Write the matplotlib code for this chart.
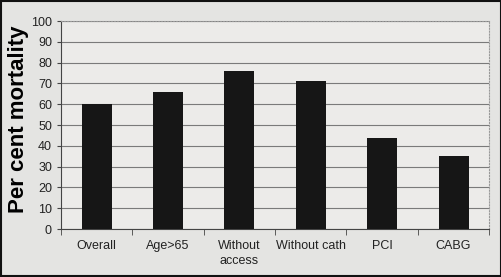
import matplotlib
matplotlib.use("Agg")
import matplotlib.pyplot as plt
import numpy as np

categories = ["Overall", "Age>65", "Without\naccess", "Without cath", "PCI", "CABG"]
values = [60, 66, 76, 71, 44, 35]
yticks = list(range(0, 101, 10))

fig = plt.figure(figsize=(5.02, 2.77), dpi=100, facecolor="#e4e4e2")
ax = fig.add_axes([0.1215, 0.173, 0.853, 0.751])
ax.set_facecolor("#ecebe9")
x = np.arange(len(categories))
ax.bar(x, values, width=0.42, color="#161616", zorder=3)
ax.set_xlim(-0.5, len(categories) - 0.5)
ax.set_ylim(0, 100)
ax.set_yticks(yticks)
ax.yaxis.grid(True, color="#7a7a7a", linewidth=0.8, zorder=0)
ax.set_xticks(x)
ax.set_xticklabels(categories, fontsize=9, family="Liberation Sans", color="#222222",
                   linespacing=1.3)
ax.set_xticks(np.arange(len(categories) + 1) - 0.5, minor=True)
ax.tick_params(axis="x", which="major", length=0, pad=8)
ax.tick_params(axis="x", which="minor", length=4, color="#444444")
ax.tick_params(axis="y", labelsize=9, length=3, color="#444444", labelcolor="#222222")
for lab in ax.get_yticklabels():
    lab.set_family("Liberation Sans")
ax.set_ylabel("Per cent mortality", fontsize=16, fontweight="bold", family="Liberation Sans")
ax.yaxis.set_label_coords(-0.075, 0.53)
ax.yaxis.label.set_va("bottom")
for s in ["top", "right"]:
    ax.spines[s].set_color("#999999")
    ax.spines[s].set_linestyle(":")
for s in ["left", "bottom"]:
    ax.spines[s].set_color("#444444")
fig.patches.append(plt.Rectangle((0.002, 0.004), 0.996, 0.992, transform=fig.transFigure,
                                 fill=False, edgecolor="#111111", linewidth=1.5))
fig.savefig("out.png", dpi=100, facecolor=fig.get_facecolor())
